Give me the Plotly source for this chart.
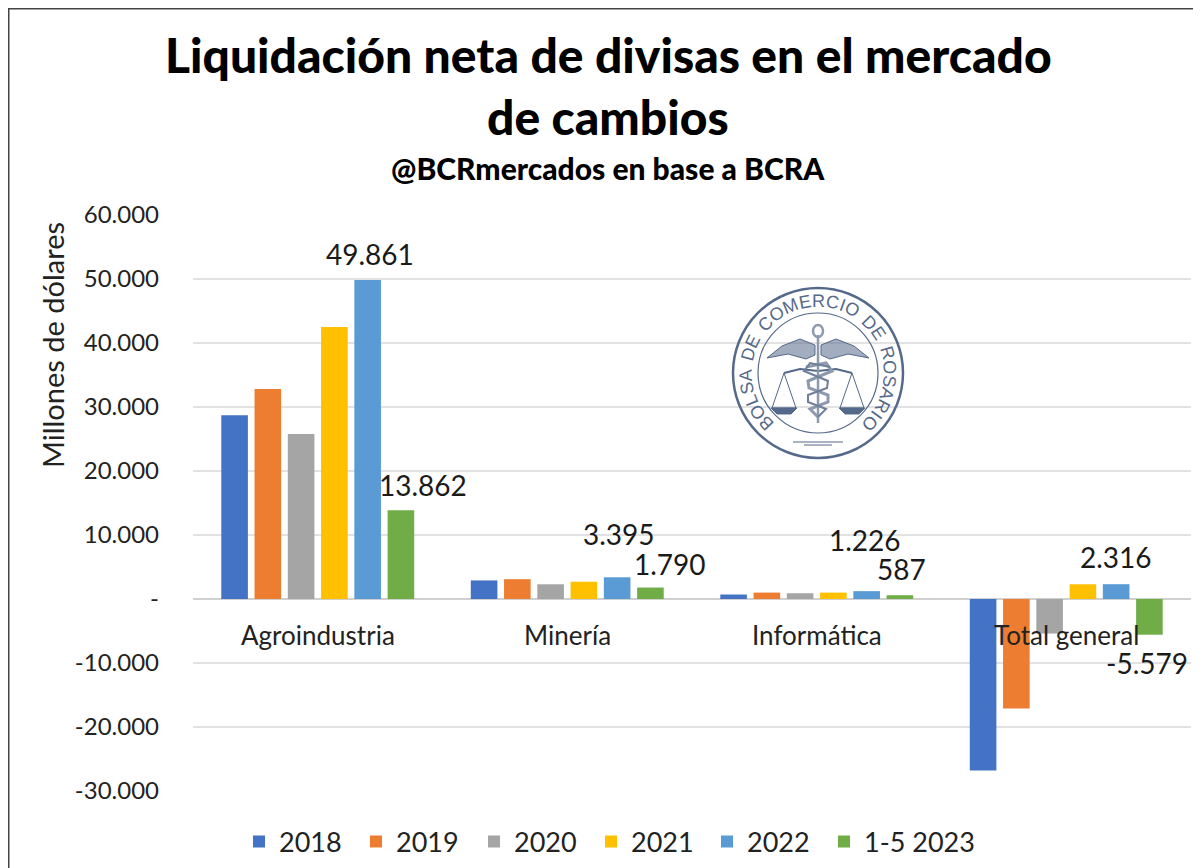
import math
import plotly.graph_objects as go

categories = ["Agroindustria", "Minería", "Informática", "Total general"]
series_names = ["2018", "2019", "2020", "2021", "2022", "1-5 2023"]
v2018 = [28700, 2900, 700, -26800]
v2019 = [32800, 3100, 1000, -17100]
v2020 = [25800, 2300, 900, -5400]
v2021 = [42500, 2700, 1000, 2300]
v2022 = [49861, 3395, 1226, 2316]
v2023 = [13862, 1790, 587, -5579]
values = [v2018, v2019, v2020, v2021, v2022, v2023]
colors = ["#4472C4", "#ED7D31", "#A5A5A5", "#FFC000", "#5B9BD5", "#70AD47"]
labels_2022 = ["49.861", "3.395", "1.226", "2.316"]
labels_2023 = ["13.862", "1.790", "587", "-5.579"]
shift_2022 = [(52, 26), (52, 43), (48, 51), (50, 27)]
shift_2023 = [(105, 25), (103, 24), (85, 26), (81, -28)]
tickvals = [-30000, -20000, -10000, 0, 10000, 20000, 30000, 40000, 50000, 60000]
ticktext = ["-30.000", "-20.000", "-10.000", "-", "10.000", "20.000", "30.000", "40.000", "50.000", "60.000"]
legend_left = [239, 356, 474, 591, 707, 824]

W, H = 1201, 868
PAGE = 8  # the page adds this margin round the figure
F = "Lato, Open Sans, sans-serif"
INK = "#222222"
def px(x): return (x - PAGE) / W
def py(y): return 1 - (y - PAGE) / H
def P(x, y): return f"{px(x):.5f},{py(y):.5f}"

fig = go.Figure()
legend_layout = {}
for i, (name, vals, col) in enumerate(zip(series_names, values, colors)):
    key = "legend" if i == 0 else f"legend{i + 1}"
    fig.add_bar(name=name, x=categories, y=vals, marker_color=col, marker_line_width=0,
                legend=key, showlegend=True)
    legend_layout[key] = dict(x=px(legend_left[i]), y=py(842), xanchor="left", yanchor="middle",
                              font=dict(size=27, color=INK, family=F), itemwidth=30,
                              bgcolor="rgba(0,0,0,0)")

fig.update_layout(
    width=W, height=H, margin=dict(l=0, r=0, t=0, b=0, autoexpand=False),
    paper_bgcolor="white", plot_bgcolor="white",
    barmode="group", bargap=0.2, bargroupgap=0.2,
    font=dict(family=F, color=INK),
    xaxis=dict(domain=[px(193), px(1191)], anchor="y", showline=False, ticks="", showgrid=False,
               zeroline=False, showticklabels=False),
    yaxis=dict(domain=[py(791), py(215)], range=[-30000, 60000], tickvals=tickvals, ticktext=ticktext,
               gridcolor="#E2E2E2", gridwidth=2, zeroline=True, zerolinecolor="#D0D0D0", zerolinewidth=2,
               tickfont=dict(size=24, color=INK, family=F), ticklabelstandoff=33, showline=False),
    **legend_layout,
)

# Frame (left and top edges only)
for x0, y0, x1, y1 in [(8, 8, 8, 900), (8, 8, 1300, 8)]:
    fig.add_shape(type="line", xref="paper", yref="paper", x0=px(x0), y0=py(y0), x1=px(x1), y1=py(y1),
                  line=dict(color="#444444", width=3))

def note(x, y, text, font, angle=0):
    fig.add_annotation(xref="paper", yref="paper", x=px(x), y=py(y), text=text, textangle=angle,
                       showarrow=False, xanchor="center", yanchor="middle", font=font)

# Titles
for text, y, size in [("Liquidación neta de divisas en el mercado", 54, 48),
                      ("de cambios", 116, 48),
                      ("@BCRmercados en base a BCRA", 168, 30)]:
    note(608, y, text, dict(size=size, color="black", family=F, weight=900))
note(52, 345, "Millones de dólares", dict(size=29, color=INK, family=F), angle=-90)

# Category labels sit inside the plot, close under the zero line
for c in categories:
    fig.add_annotation(xref="x", yref="y", x=c, y=-5700, text=c, showarrow=False,
                       font=dict(size=26, color=INK, family=F))

# Data labels
for vals, labs, shifts in [(v2022, labels_2022, shift_2022), (v2023, labels_2023, shift_2023)]:
    for c, v, t, (dx, dy) in zip(categories, vals, labs, shifts):
        fig.add_annotation(xref="x", yref="y", x=c, y=v, text=t, showarrow=False, xshift=dx, yshift=dy,
                           font=dict(size=28, color="#1a1a1a", family=F))

# Emblem
NAVY = "#55698A"
CX, CY = 818, 373
def ring(r, w):
    fig.add_shape(type="circle", xref="paper", yref="paper", x0=px(CX - r), x1=px(CX + r), y0=py(CY + r), y1=py(CY - r),
                  line=dict(color=NAVY, width=w), layer="above")
def path(points, w=1.5, fill=None, close=False, color=NAVY):
    d = "M " + " L ".join(P(CX + a, CY + b) for a, b in points) + (" Z" if close else "")
    fig.add_shape(type="path", xref="paper", yref="paper", path=d, layer="above",
                  line=dict(color=color, width=w), fillcolor=fill if fill else "rgba(0,0,0,0)")
ring(85, 2.5)
ring(60, 1.2)

seal = "BOLSA DE COMERCIO DE ROSARIO"
glyph_w = {"I": .32, "M": .9, "O": .82, "C": .78, " ": .42, "L": .62, "S": .7, "A": .72, "B": .72, "D": .76, "E": .7, "R": .76}
SEAL_R, SEAL_SIZE = 72, 18
total = sum(glyph_w[c] for c in seal) - (glyph_w[seal[0]] + glyph_w[seal[-1]]) / 2
pos = -glyph_w[seal[0]] / 2
for ch in seal:
    centre = pos + glyph_w[ch] / 2
    pos += glyph_w[ch]
    if ch == " ":
        continue
    ang = -134 + 268 * centre / total
    a = math.radians(ang)
    note(CX + SEAL_R * math.sin(a), CY - SEAL_R * math.cos(a), ch,
         dict(size=SEAL_SIZE, color=NAVY, family="Liberation Sans, sans-serif"), angle=ang)

for s in (-1, 1):
    path([(s * 3, -28), (s * 18, -34), (s * 36, -27), (s * 51, -15), (s * 30, -19), (s * 12, -14), (s * 3, -18)],
         w=1, fill="rgba(85,105,138,0.55)", close=True)
    path([(0, -2), (s * 18, -4), (s * 34, 0)], w=2)
    path([(s * 34, 0), (s * 22, 35), (s * 46, 35), (s * 34, 0)], w=1)
    path([(s * 21, 35), (s * 27, 41), (s * 41, 41), (s * 47, 35)], w=1, fill=NAVY, close=True)
path([(0, -38), (0, 50)], w=2.5, color="#8C99AE")
fig.add_shape(type="circle", xref="paper", yref="paper", x0=px(CX - 5), x1=px(CX + 5), y0=py(CY - 36), y1=py(CY - 48),
              line=dict(color="#8C99AE", width=2.5), layer="above")
path([(-12, -6), (8, -10), (14, -2), (-10, 8), (-9, 15), (10, 22), (10, 29), (-8, 36), (0, 44)], w=3, color="#8C99AE")
path([(12, -6), (-8, -10), (-14, -2), (10, 8), (9, 15), (-10, 22), (-10, 29), (8, 36), (0, 44)], w=2, color="#6F7F99")
path([(-25, 69), (25, 69)], w=1.2)
path([(-14, 72), (14, 72)], w=1)

fig.write_html("out.html")
